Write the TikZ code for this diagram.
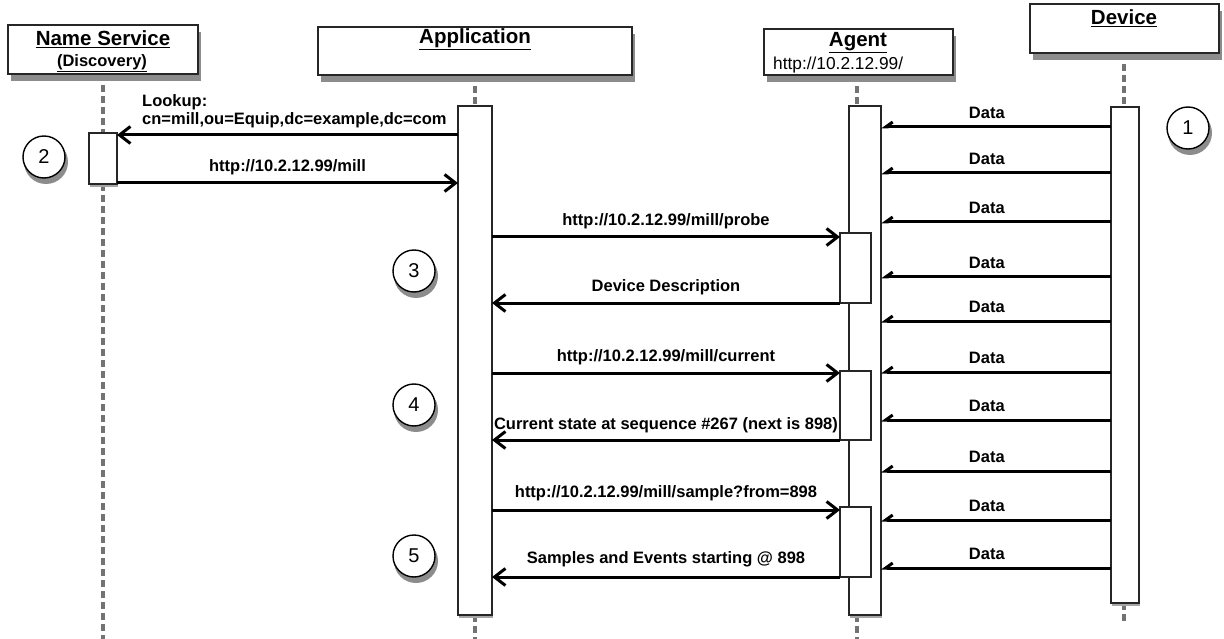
\documentclass[tikz,border=0pt]{standalone}
\usepackage{fontspec}
\setmainfont{Liberation Sans}
\usetikzlibrary{arrows.meta,backgrounds}

\begin{document}
\begin{tikzpicture}[x=1pt,y=-1pt,
  headbox/.style={draw=black!85, line width=1.5pt, fill=white, inner sep=0pt, outer sep=0pt,
    anchor=north west},
  actbox/.style={draw=black!85, line width=1.5pt, fill=white, inner sep=0pt, outer sep=0pt,
    anchor=north west},
  boxshadow/.style={fill=black!45, draw=none},
  barshadow/.style={fill=black!35, draw=none},
  title/.style={inner sep=0pt, font=\bfseries\fontsize{20.5}{22}\selectfont},
  subtitle/.style={inner sep=0pt, font=\bfseries\fontsize{16.5}{18}\selectfont},
  url/.style={inner sep=0pt, font=\fontsize{17.3}{19}\selectfont},
  lbl/.style={inner sep=0pt, font=\bfseries\fontsize{16.5}{18}\selectfont},
  lifeline/.style={draw=black!55, line width=3.2pt, dash pattern=on 7pt off 4pt},
  msg/.style={draw=black, line width=3pt,
    -{Straight Barb[length=11pt, width=17pt]}},
  data/.style={draw=black, line width=3pt,
    -{Straight Barb[harpoon, swap, length=7pt, width=10pt]}},
  stepnum/.style={circle, draw=black, line width=1.4pt, fill=white, minimum size=42pt,
    inner sep=0pt, font=\fontsize{20}{20}\selectfont}
]
\useasboundingbox (0,0) rectangle (1224,639);

% ---- drop shadows of the heads and bars ----
\fill[boxshadow] (11,32)   rectangle (201,81);
\fill[boxshadow] (321,34)  rectangle (635,82);
\fill[boxshadow] (767,36)  rectangle (956,82);
\fill[boxshadow] (1033,11) rectangle (1222,60);
\fill[barshadow] (90,136)   rectangle (118,187);
\fill[barshadow] (459,109)  rectangle (493,618);
\fill[barshadow] (850,109)  rectangle (882,618);
\fill[barshadow] (1112,110) rectangle (1140,606);

% ---- lifeline heads ----
\node[headbox, minimum width=190pt, minimum height=49pt] (nshead)  at (8,25)    {};
\node[headbox, minimum width=314pt, minimum height=48pt] (apphead) at (318,27)  {};
\node[headbox, minimum width=189pt, minimum height=46pt] (aghead)  at (764,29)  {};
\node[headbox, minimum width=189pt, minimum height=49pt] (devhead) at (1030,4)  {};

\node[title]    (nsname)  at (103,39)  {\underline{Name Service}};
\node[subtitle] (nsdisc)  at (102,63)  {\underline{(Discovery)}};
\node[title]    (appname) at (475,39)  {\underline{Application}};
\node[title]    (agname)  at (858,43)  {\underline{Agent}};
\node[url, anchor=west] (agurl) at (773,65) {http://10.2.12.99/};
\node[title]    (devname) at (1124,18) {\underline{Device}};

% ---- end points of the lifelines ----
\coordinate (nsend)  at (103,639);
\coordinate (append) at (475,639);
\coordinate (agend)  at (857,639);
\coordinate (devend) at (1124,622);

% ---- activation bars ----
\node[actbox, minimum width=28pt, minimum height=51pt]  (nsact)  at (89,133)   {};
\node[actbox, minimum width=34pt, minimum height=509pt] (appact) at (458,106)  {};
\node[actbox, minimum width=32pt, minimum height=509pt] (agact)  at (849,106)  {};
\node[actbox, minimum width=28pt, minimum height=496pt] (devact) at (1111,107) {};

% nested agent activations
\node[actbox, minimum width=31pt, minimum height=70pt] (agp1) at (840,233) {};
\node[actbox, minimum width=31pt, minimum height=69pt] (agp2) at (840,371) {};
\node[actbox, minimum width=31pt, minimum height=70pt] (agp3) at (840,507) {};

% ---- dashed lifelines, behind the boxes ----
\begin{pgfonlayer}{background}
  \draw[lifeline] (nshead.south) -- (nsact.north);
  \draw[lifeline] (nsact.south) -- (nsend);
  \draw[lifeline] (apphead.south) -- (appact.north);
  \draw[lifeline] (appact.south) -- (append);
  \draw[lifeline] (aghead.south -| agend) -- (agact.north -| agend);
  \draw[lifeline] (agact.south -| agend) -- (agend);
  \draw[lifeline] (devhead.south -| devend) -- (devact.north -| devend);
  \draw[lifeline] (devact.south -| devend) -- (devend);
\end{pgfonlayer}

% ---- discovery ----
\draw[msg] (appact.west |- 0,135) -- (nsact.east |- 0,135);
\node[lbl, anchor=north west, align=left] (lookup) at (142,94)
  {Lookup:\\cn=mill,ou=Equip,dc=example,dc=com};
\draw[msg] (nsact.east |- 0,183) -- (appact.west |- 0,183)
  node[lbl, midway, yshift=16pt] (lmill) {http://10.2.12.99/mill};

% ---- probe ----
\draw[msg] (appact.east |- 0,237) -- (agp1.west |- 0,237)
  node[lbl, midway, yshift=16pt] (lprobe) {http://10.2.12.99/mill/probe};
\draw[msg] (agp1.south west) -- (appact.east |- agp1.south)
  node[lbl, midway, yshift=16pt] (ldesc) {Device Description};

% ---- current ----
\draw[msg] (appact.east |- 0,373) -- (agp2.west |- 0,373)
  node[lbl, midway, yshift=16pt] (lcur) {http://10.2.12.99/mill/current};
\draw[msg] (agp2.south west) -- (appact.east |- agp2.south)
  node[lbl, midway, yshift=15pt] (lstate) {Current state at sequence \#267 (next is 898)};

% ---- sample ----
\draw[msg] (appact.east |- 0,510) -- (agp3.west |- 0,510)
  node[lbl, midway, yshift=17pt] (lsample) {http://10.2.12.99/mill/sample?from=898};
\draw[msg] (agp3.south west) -- (appact.east |- agp3.south)
  node[lbl, midway, yshift=18pt] (lsamples) {Samples and Events starting @ 898};

% ---- data stream from the device ----
\foreach \yy in {127,173,222,277,321,372,420,471,520,568}
  \draw[data] (devact.west |- 0,\yy) -- (agact.east |- 0,\yy)
    node[lbl, pos=0.54, yshift=14pt] (d\yy) {Data};

% ---- step markers ----
\foreach \n/\px/\py in {1/1188/128, 2/44/157, 3/414/271, 4/414/405, 5/414/556}{
  \fill[boxshadow] (\px+2,\py+5) circle[radius=22pt];
  \node[stepnum] (s\n) at (\px,\py) {\n};
}
\end{tikzpicture}
\end{document}
